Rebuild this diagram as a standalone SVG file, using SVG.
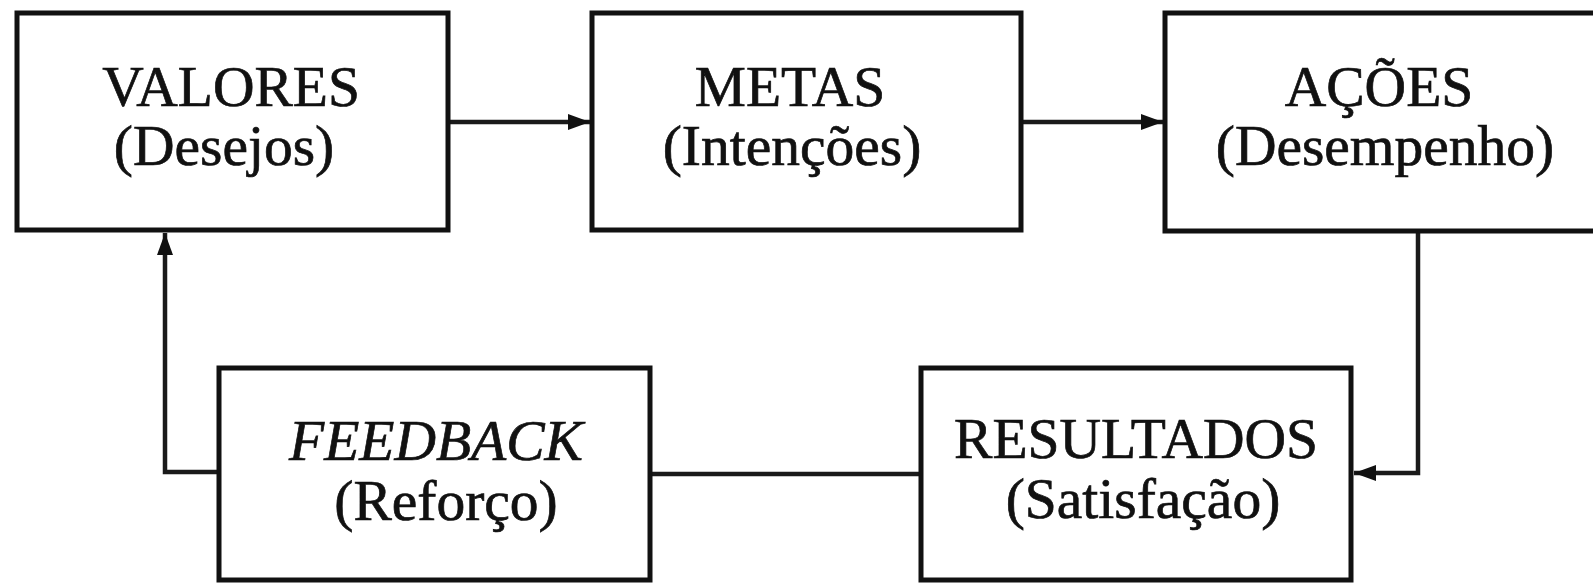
<svg xmlns="http://www.w3.org/2000/svg" width="1593" height="583" viewBox="0 0 1593 583">
  <style>
    .box { fill: #ffffff; stroke: #111111; stroke-width: 5; }
    .lbl { font-family: "Liberation Serif", "Times New Roman", serif; font-size: 57.5px; fill: #111111; stroke: #111111; stroke-width: 0.7; text-anchor: middle; }
    .it { font-style: italic; }
    .wire { fill: none; stroke: #1a1a1a; stroke-width: 4.5; }
  </style>
  <defs>
    <marker id="arrow" markerUnits="userSpaceOnUse" markerWidth="24" markerHeight="18" refX="22" refY="9" orient="auto">
      <path d="M0,1 L22,9 L0,17 Z" fill="#111111"/>
    </marker>
  </defs>
  <rect width="1593" height="583" fill="#ffffff"/>

  <g id="connectors">
    <path class="wire" d="M448,122 H590" marker-end="url(#arrow)"/>
    <path class="wire" d="M1021,122 H1163" marker-end="url(#arrow)"/>
    <path class="wire" d="M1418,231 V473 H1354" marker-end="url(#arrow)"/>
    <path class="wire" d="M921,474 H650"/>
    <path class="wire" d="M219,472 H165 V233" marker-end="url(#arrow)"/>
  </g>

  <g id="valores">
    <rect class="box" x="17" y="13" width="431" height="217"/>
    <text class="lbl" x="231" y="106">VALORES</text>
    <text class="lbl" x="224" y="165">(Desejos)</text>
  </g>

  <g id="metas">
    <rect class="box" x="592" y="13" width="429" height="217"/>
    <text class="lbl" x="790" y="106">METAS</text>
    <text class="lbl" x="792" y="165">(Intenções)</text>
  </g>

  <g id="acoes">
    <rect class="box" x="1165" y="13" width="440" height="218"/>
    <text class="lbl" x="1379" y="106">AÇÕES</text>
    <text class="lbl" x="1385" y="165">(Desempenho)</text>
  </g>

  <g id="feedback">
    <rect class="box" x="219" y="368" width="431" height="212"/>
    <text class="lbl it" x="436" y="460">FEEDBACK</text>
    <text class="lbl" x="446" y="520">(Reforço)</text>
  </g>

  <g id="resultados">
    <rect class="box" x="921" y="368" width="430" height="212"/>
    <text class="lbl" x="1136" y="458">RESULTADOS</text>
    <text class="lbl" x="1143" y="518">(Satisfação)</text>
  </g>
</svg>
